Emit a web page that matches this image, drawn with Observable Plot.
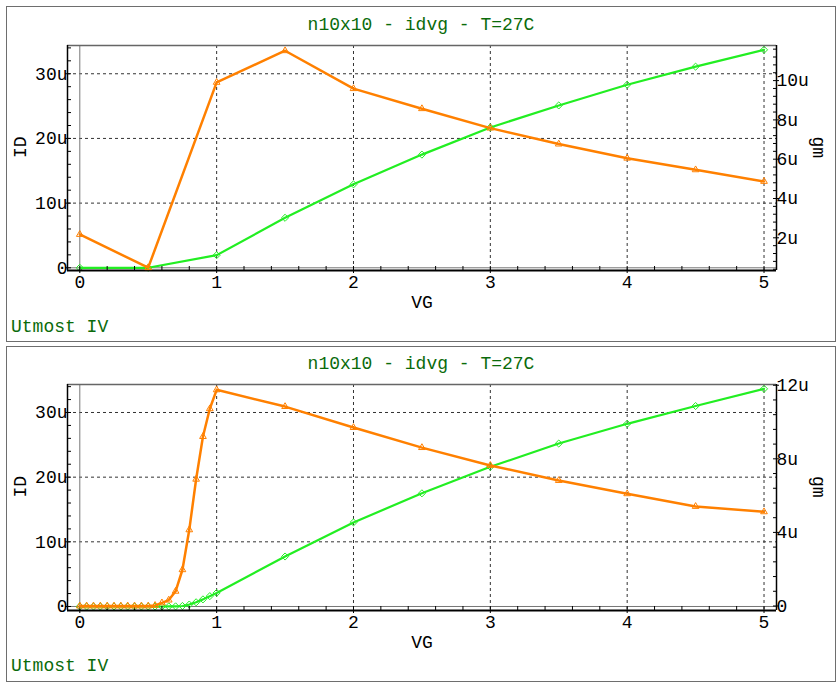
<!DOCTYPE html>
<html>
<head>
<meta charset="utf-8">
<script src="https://cdn.jsdelivr.net/npm/d3@7"></script>
<script src="https://cdn.jsdelivr.net/npm/@observablehq/plot@0.6"></script>
<style>
  html, body { margin: 0; padding: 0; background: #fff; }
  #root { position: relative; width: 840px; height: 684px; overflow: hidden; font-family: "Liberation Mono", monospace; }
  .box { position: absolute; left: 6px; width: 828px; border: 1.5px solid #6e6e6e; box-sizing: content-box; }
  .title { position: absolute; left: 0; width: 842px; text-align: center; font-size: 18px; line-height: 20px; color: #0b6b0b; white-space: pre; }
  .foot { position: absolute; left: 11px; font-size: 18px; line-height: 20px; color: #0b6b0b; white-space: pre; }
  svg { position: absolute; left: 0; }
</style>
</head>
<body>
<div id="root"></div>
<script>
// ---------- data ----------
const titleText = "n10x10 - idvg - T=27C";
const footText = "Utmost IV";
const xLabel = "VG";
const yLeftLabel = "ID";
const yRightLabel = "gm";

// top panel (VG step 0.5)
const vgTop = [0, 0.5, 1, 1.5, 2, 2.5, 3, 3.5, 4, 4.5, 5];
const idTop = [0, 0, 1.95, 7.73, 12.9, 17.5, 21.7, 25.1, 28.3, 31.1, 33.7];      // µA
const gmTop = [2.17, 0.48, 9.91, 11.52, 9.59, 8.57, 7.58, 6.77, 6.05, 5.46, 4.87]; // µS

// bottom panel (VG step 0.05 up to 1, then 0.5)
const vgBot = [0, 0.05, 0.1, 0.15, 0.2, 0.25, 0.3, 0.35, 0.4, 0.45, 0.5, 0.55, 0.6, 0.65, 0.7, 0.75, 0.8, 0.85, 0.9, 0.95, 1,
               1.5, 2, 2.5, 3, 3.5, 4, 4.5, 5];
const idBot = [0, 0, 0, 0, 0, 0, 0, 0, 0, 0, 0, 0, 0, 0.01, 0.02, 0.08, 0.3, 0.65, 1.1, 1.6, 2.1,
               7.73, 13.0, 17.5, 21.6, 25.2, 28.25, 31.0, 33.66];
const gmBot = [0, 0, 0, 0, 0, 0, 0, 0, 0, 0, 0, 0.03, 0.17, 0.32, 0.8, 1.97, 4.14, 6.89, 9.21, 10.72, 11.75,
               10.84, 9.70, 8.61, 7.64, 6.82, 6.10, 5.41, 5.12];

// ticks
const xMajor = [0, 1, 2, 3, 4, 5];
const xGrid = [1, 2, 3, 4, 5];
const idMajor = [0, 10, 20, 30];
const gmMajorTop = [2, 4, 6, 8, 10];
const gmMajorBot = [0, 4, 8, 12];

// ---------- styling ----------
const GREEN = "#22ee22";
const ORANGE = "#ff8000";
const xDomain = [-0.0899, 5.0912];
const fmtU = d => d === 0 ? "0" : d + "u";
const xMinor = d3.range(0, 5.01, 0.2);
const idMinor = d3.range(0, 34.1, 2);

function panel(root, cfg) {
  const common = {
    width: 840, height: cfg.height,
    marginLeft: 67, marginRight: 64, marginTop: cfg.mt, marginBottom: cfg.mb,
    style: { background: "transparent", fontFamily: "'Liberation Mono', monospace", fontSize: "18px", color: "#000", overflow: "visible" }
  };
  const grid = { stroke: "#333", strokeOpacity: 1, strokeWidth: 1, strokeDasharray: "3,3" };
  const A = Plot.plot({
    ...common,
    x: { domain: xDomain },
    y: { domain: cfg.idDomain },
    marks: [
      Plot.gridX({ ticks: xGrid, ...grid }),
      Plot.gridY({ ticks: idMajor.filter(d => d > 0), ...grid }),
      Plot.ruleX([0], { stroke: "#777", strokeWidth: 1 }),
      Plot.ruleY([0], { stroke: "#777", strokeWidth: 1 }),
      Plot.line(cfg.vg.map((v, i) => i), { x: i => cfg.vg[i], y: i => cfg.id[i], stroke: GREEN, strokeWidth: 2.2 }),
      Plot.dot(cfg.vg.map((v, i) => i), { x: i => cfg.vg[i], y: i => cfg.id[i], symbol: "diamond2", r: 3.2, stroke: GREEN, strokeWidth: 1, fill: "none" }),
      Plot.ruleY([cfg.idDomain[1]], { stroke: "#666", strokeWidth: 1.5 }),
      Plot.ruleX([xDomain[0]], { stroke: "#000", strokeWidth: 1.5 }),
      Plot.ruleY([cfg.idDomain[0]], { stroke: "#000", strokeWidth: 1.8 }),
      Plot.axisY({ anchor: "left", ticks: idMinor, tickSize: -4, tickFormat: () => "", label: null, stroke: "#000" }),
      Plot.axisY({ anchor: "left", ticks: idMajor, tickSize: 2, tickFormat: () => "", label: null, stroke: "#000" }),
      Plot.axisX({ anchor: "bottom", ticks: xMinor, tickSize: -4, tickFormat: () => "", label: null, stroke: "#000" }),
      Plot.axisX({ anchor: "bottom", ticks: xMajor, tickSize: 3, tickFormat: () => "", label: null, stroke: "#000" }),
      Plot.text(idMajor, { y: d => d, text: fmtU, frameAnchor: "left", textAnchor: "end", lineAnchor: "middle", dx: 0, fill: "#000" }),
      Plot.text(xMajor, { x: d => d, text: d => String(d), frameAnchor: "bottom", lineAnchor: "middle", dy: 12, fill: "#000" }),
      Plot.text([xLabel], { text: d => d, frameAnchor: "bottom", lineAnchor: "middle", dy: 32, fill: "#000" }),
      Plot.text([yLeftLabel], { text: d => d, frameAnchor: "left", lineAnchor: "middle", dx: -47, rotate: -90, fill: "#000" })
    ]
  });
  const B = Plot.plot({
    ...common,
    x: { domain: xDomain, axis: null },
    y: { domain: cfg.gmDomain },
    marks: [
      Plot.line(cfg.vg.map((v, i) => i), { x: i => cfg.vg[i], y: i => cfg.gm[i], stroke: ORANGE, strokeWidth: 2.5 }),
      Plot.dot(cfg.vg.map((v, i) => i), { x: i => cfg.vg[i], y: i => cfg.gm[i], symbol: "triangle2", r: 3.2, stroke: ORANGE, strokeWidth: 1, fill: "none" }),
      Plot.ruleX([xDomain[1]], { stroke: "#000", strokeWidth: 1.5 }),
      Plot.axisY({ anchor: "right", ticks: cfg.gmMinor, tickSize: -4, tickFormat: () => "", label: null, stroke: "#000" }),
      Plot.axisY({ anchor: "right", ticks: cfg.gmMajor, tickSize: 2, tickFormat: () => "", label: null, stroke: "#000" }),
      Plot.text(cfg.gmMajor, { y: d => d, text: fmtU, frameAnchor: "right", textAnchor: "start", lineAnchor: "middle", dx: 0, fill: "#000" }),
      Plot.text([yRightLabel], { text: d => d, frameAnchor: "right", lineAnchor: "middle", dx: 42, rotate: 90, fill: "#000" })
    ]
  });
  for (const s of [A, B]) { s.style.top = cfg.top + "px"; root.appendChild(s); }
}

const root = document.getElementById("root");
// boxes
for (const [t, h] of [[6, 334], [345.5, 334]]) {
  const b = document.createElement("div"); b.className = "box";
  b.style.top = t + "px"; b.style.height = h + "px"; root.appendChild(b);
}
for (const t of [14.5, 354]) {
  const d = document.createElement("div"); d.className = "title"; d.style.top = t + "px"; d.textContent = titleText; root.appendChild(d);
}
for (const t of [317, 655.5]) {
  const d = document.createElement("div"); d.className = "foot"; d.style.top = t + "px"; d.textContent = footText; root.appendChild(d);
}

panel(root, {
  top: 0, height: 342, mt: 45, mb: 72,
  vg: vgTop, id: idTop, gm: gmTop,
  idDomain: [-0.42, 34.37], gmDomain: [0.336, 11.786],
  gmMajor: gmMajorTop, gmMinor: d3.range(0.4, 11.7, 0.4)
});
panel(root, {
  top: 342, height: 342, mt: 42, mb: 74,
  vg: vgBot, id: idBot, gm: gmBot,
  idDomain: [-0.62, 34.33], gmDomain: [-0.245, 12.04],
  gmMajor: gmMajorBot, gmMinor: d3.range(0, 12.01, 0.8)
});
</script>
</body>
</html>
